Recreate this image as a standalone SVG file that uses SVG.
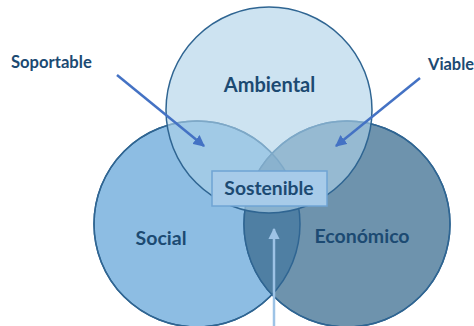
<svg xmlns="http://www.w3.org/2000/svg" width="474" height="326" viewBox="0 0 474 326">
<style>
.lbl{font-family:Lato,"Liberation Sans",sans-serif;font-weight:bold;fill:#1c4a72}
.ring{stroke:#2f6592;stroke-width:1.5}
.arr{stroke:#4472c4;stroke-width:2.5;fill:none}
</style>
<defs>
<marker id="ah" viewBox="0 0 10 10" refX="9" refY="5" markerWidth="4.6" markerHeight="4.6" orient="auto" markerUnits="strokeWidth">
<path d="M0,0 L10,5 L0,10 z" fill="#4472c4"/>
</marker>
<marker id="ahl" viewBox="0 0 10 10" refX="9" refY="5" markerWidth="4.6" markerHeight="4.6" orient="auto" markerUnits="strokeWidth">
<path d="M0,0 L10,5 L0,10 z" fill="#9dc3e6"/>
</marker>
<clipPath id="socClip"><circle cx="197" cy="224" r="103"/></clipPath>
</defs>
<rect width="474" height="326" fill="#ffffff"/>
<g id="social">
<circle cx="197" cy="224" r="103" fill="#8dbde3" class="ring"/>
</g>
<g id="economico">
<circle cx="347" cy="224" r="103" fill="#6e93ad" class="ring"/>
<circle cx="347" cy="224" r="103" fill="#4f7fa3" clip-path="url(#socClip)"/>
<circle cx="197" cy="224" r="103" fill="none" class="ring"/>
<circle cx="347" cy="224" r="103" fill="none" class="ring"/>
</g>
<g id="ambiental">
<circle cx="269" cy="110" r="103" fill="#afd2e9" fill-opacity="0.62" class="ring"/>
<text x="269.5" y="92" text-anchor="middle" font-size="20" class="lbl">Ambiental</text>
</g>
<text x="161" y="245" text-anchor="middle" font-size="19.5" class="lbl">Social</text>
<text x="362" y="243" text-anchor="middle" font-size="19.5" class="lbl">Económico</text>
<g id="sostenible">
<rect x="212" y="171" width="115" height="35" fill="#a7cbe9" stroke="#6fa4d4" stroke-width="1.5"/>
<text x="269" y="195" text-anchor="middle" font-size="19.3" class="lbl">Sostenible</text>
</g>
<g id="soportable">
<text x="11" y="68" font-size="16.6" class="lbl">Soportable</text>
</g>
<g id="viable">
<text x="428" y="70" font-size="16.4" class="lbl">Viable</text>
</g>
<g id="connectors">
<line x1="117" y1="75" x2="204" y2="146" class="arr" marker-end="url(#ah)"/>
<line x1="420" y1="78" x2="336" y2="146" class="arr" marker-end="url(#ah)"/>
<line x1="274" y1="326" x2="274" y2="229" stroke="#9dc3e6" stroke-width="2.5" marker-end="url(#ahl)"/>
</g>
</svg>
